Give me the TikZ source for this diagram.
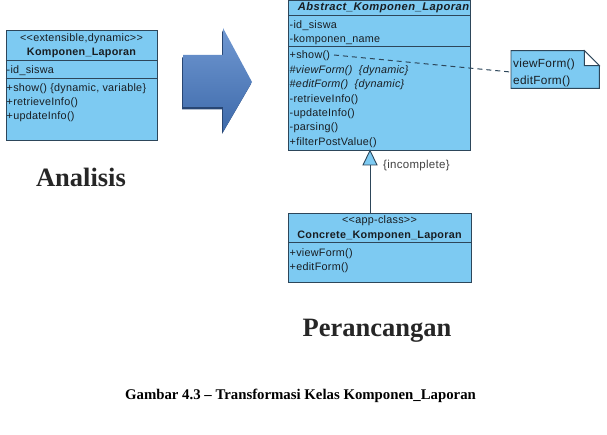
\documentclass[tikz,border=0pt]{standalone}
\usepackage{fontspec}
\setmainfont{Liberation Serif}
\newfontfamily\umlfont[LetterSpace=2.5]{Liberation Sans}
\newfontfamily\umltitlefont[LetterSpace=4]{Liberation Sans}
\definecolor{boxfill}{RGB}{125,202,242}
\definecolor{boxline}{RGB}{45,70,90}
\definecolor{umltext}{RGB}{25,30,35}
\definecolor{arrowtop}{RGB}{112,152,210}
\definecolor{arrowbot}{RGB}{62,106,170}
\definecolor{arrowshadow}{RGB}{40,70,115}
\tikzset{
  classbox/.style={draw=boxline, line width=0.9pt, fill=boxfill, inner sep=0pt, anchor=north west},
  compline/.style={draw=boxline, line width=0.9pt},
  umltxt/.style={inner sep=0pt, anchor=base west, text=umltext, font=\umlfont\fontsize{10.8}{12}\selectfont},
  umlhead/.style={inner sep=0pt, anchor=base, text=umltext, font=\umlfont\fontsize{10.8}{12}\selectfont},
  bigtxt/.style={inner sep=0pt, anchor=base, text=black!85, font=\bfseries\fontsize{26.5}{30}\selectfont},
}
\begin{document}
\begin{tikzpicture}[x=1pt,y=-1pt]
\useasboundingbox (0,0) rectangle (607,435);

% ---------- left class ----------
\node[classbox, minimum width=151.5pt, minimum height=110pt] (kl) at (5.7,30) {};
\draw[compline] ([yshift=-30.7pt]kl.north west) -- ([yshift=-30.7pt]kl.north east);
\draw[compline] ([yshift=-48.7pt]kl.north west) -- ([yshift=-48.7pt]kl.north east);
\node[umlhead] (kls) at (81.5,41.5) {<<extensible,dynamic>>};
\node[umlhead, font=\umlfont\bfseries\fontsize{10.8}{12}\selectfont] (kln) at (81.5,56) {Komponen\_Laporan};
\node[umltxt] (kla) at (6.5,73.5) {-id\_siswa};
\node[umltxt] (klo1) at (6.5,91.5) {+show() \{dynamic, variable\}};
\node[umltxt] (klo2) at (6.5,105.5) {+retrieveInfo()};
\node[umltxt] (klo3) at (6.5,119.5) {+updateInfo()};

% ---------- big arrow ----------
\fill[arrowshadow] (182,57.5) -- (222,57.5) -- (222,30.5) -- (251,84) -- (222,134) -- (222,109.5) -- (182,109.5) -- cycle;
\shade[top color=arrowtop, bottom color=arrowbot] (183,55) -- (223,55) -- (223,28) -- (252,82) -- (223,132) -- (223,107) -- (183,107) -- cycle;
\node[inner sep=0pt] (bigarrow) at (217,80) {};

% ---------- abstract class ----------
\node[classbox, minimum width=182pt, minimum height=149.5pt] (abs) at (288,0.5) {};
\draw[compline] ([yshift=-14.5pt]abs.north west) -- ([yshift=-14.5pt]abs.north east);
\draw[compline] ([yshift=-46.2pt]abs.north west) -- ([yshift=-46.2pt]abs.north east);
\node[umlhead, font=\umltitlefont\bfseries\itshape\fontsize{11.2}{12}\selectfont] (absn) at (383.5,11) {Abstract\_Komponen\_Laporan};
\node[umltxt] (absa1) at (289.5,29) {-id\_siswa};
\node[umltxt] (absa2) at (289.5,43) {-komponen\_name};
\node[umltxt] (abso1) at (289.5,59) {+show()};
\node[umltxt, font=\umlfont\itshape\fontsize{10.8}{12}\selectfont] (abso2) at (289.5,73.4) {\#viewForm()\ \ \{dynamic\}};
\node[umltxt, font=\umlfont\itshape\fontsize{10.8}{12}\selectfont] (abso3) at (289.5,87.8) {\#editForm()\ \ \{dynamic\}};
\node[umltxt] (abso4) at (289.5,102.2) {-retrieveInfo()};
\node[umltxt] (abso5) at (289.5,116.6) {-updateInfo()};
\node[umltxt] (abso6) at (289.5,131) {-parsing()};
\node[umltxt] (abso7) at (289.5,145.4) {+filterPostValue()};

% ---------- note ----------
\node[inner sep=0pt, minimum width=88pt, minimum height=37.3pt, anchor=north west] (note) at (511,50.7) {};
\draw[boxline, line width=0.9pt, fill=boxfill]
  (note.north west) -- ([xshift=-15pt]note.north east) -- ([yshift=-15pt]note.north east)
  -- (note.south east) -- (note.south west) -- cycle;
\draw[boxline, line width=0.9pt, fill=white]
  ([xshift=-15pt]note.north east) -- ([xshift=-15pt,yshift=-15pt]note.north east) -- ([yshift=-15pt]note.north east) -- cycle;
\node[umltxt, font=\umlfont\fontsize{11.8}{13}\selectfont] (nt1) at (513,67.5) {viewForm()};
\node[umltxt, font=\umlfont\fontsize{11.8}{13}\selectfont] (nt2) at (513,84.5) {editForm()};
\coordinate (showend) at (334,55);
\draw[boxline, line width=1pt, dash pattern=on 5pt off 4pt] (showend) -- ([yshift=-2.5pt]note.west);

% ---------- concrete class ----------
\node[classbox, minimum width=183pt, minimum height=69pt] (conc) at (288,212.7) {};
\draw[compline] ([yshift=-30pt]conc.north west) -- ([yshift=-30pt]conc.north east);
\node[umlhead] (concs) at (379.5,223.5) {<<app-class>>};
\node[umlhead, font=\umlfont\bfseries\fontsize{10.8}{12}\selectfont] (concn) at (379.5,239) {Concrete\_Komponen\_Laporan};
\node[umltxt] (conco1) at (289.5,256.5) {+viewForm()};
\node[umltxt] (conco2) at (289.5,271) {+editForm()};

% ---------- generalization ----------
\coordinate (gtip) at (370,150.5);
\coordinate (gbase) at (370,165);
\draw[boxline, line width=0.9pt] (gbase) -- (conc.north -| gbase);
\draw[boxline, line width=0.9pt, fill=boxfill, line join=miter] (gtip) -- (377,165) -- (363,165) -- cycle;
\node[umltxt, text=black!75, font=\umlfont\fontsize{11.5}{13}\selectfont] (incomp) at (383,169) {\{incomplete\}};

% ---------- labels ----------
\node[bigtxt] (analisis) at (81,187) {Analisis};
\node[bigtxt] (perancangan) at (377,336) {Perancangan};
\node[inner sep=0pt, anchor=base, font=\bfseries\fontsize{14.8}{17}\selectfont] (caption) at (300.5,399) {Gambar 4.3 -- Transformasi Kelas Komponen\_Laporan};
\end{tikzpicture}
\end{document}
